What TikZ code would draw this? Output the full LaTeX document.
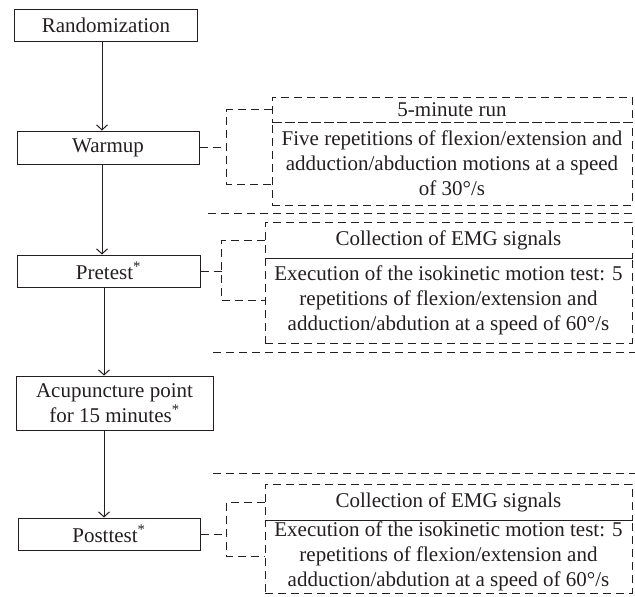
\documentclass[tikz,border=0pt]{standalone}
\usepackage{fontspec}
\setmainfont{Liberation Serif}
\usetikzlibrary{arrows.meta}
\definecolor{ink}{RGB}{35,31,32}
\tikzset{
  box/.style={draw=ink, line width=1pt, inner sep=0pt, align=center, text=ink},
  dbox/.style={draw=ink, line width=1pt, dash pattern=on 8pt off 5pt, inner sep=0pt, align=center, text=ink},
  dline/.style={draw=ink, line width=1pt, dash pattern=on 8pt off 5pt},
  flow/.style={draw=ink, line width=1pt, -{Straight Barb[length=5pt,width=11pt]}}
}

\begin{document}
\begin{tikzpicture}[x=1pt, y=-1pt, font=\fontsize{21}{25}\selectfont]
  \useasboundingbox (0,0) rectangle (635,597);
  % main steps
  \node[box, minimum width=183pt, minimum height=32pt] (rand) at (106,25.5) {Randomization};
  \node[box, minimum width=182pt, minimum height=33pt] (warm) at (108,147.5) {Warmup};
  \node[box, minimum width=183pt, minimum height=32pt] (pre) at (108.5,271) {Pretest\textsuperscript{*}};
  \node[box, minimum width=197pt, minimum height=54pt] (acu) at (114.5,403) {Acupuncture point\\for 15 minutes\textsuperscript{*}};
  \node[box, minimum width=182pt, minimum height=32pt] (post) at (109,534) {Posttest\textsuperscript{*}};
  \coordinate (upper) at (102,0);
  \coordinate (lower) at (104,0);
  \draw[flow] (rand.south -| upper) -- (warm.north -| upper);
  \draw[flow] (warm.south -| upper) -- (pre.north -| upper);
  \draw[flow] (pre.south -| lower) -- (acu.north -| lower);
  \draw[flow] (acu.south -| lower) -- (post.north -| lower);
  % details
  \node[dbox, minimum width=360pt, minimum height=25pt] (run) at (452,109.5) {5-minute run};
  \node[dbox, minimum width=360pt, minimum height=83pt] (five) at (452,163.5) {Five repetitions of flexion/extension and\\adduction/abduction motions at a speed\\of 30°/s};
  \node[dbox, minimum width=367pt, minimum height=36pt] (emg1) at (448.5,240) {Collection of EMG signals};
  \node[dbox, minimum width=367pt, minimum height=85pt] (exe1) at (448.5,300.5) {Execution of the isokinetic motion test: 5\\repetitions of flexion/extension and\\adduction/abdution at a speed of 60°/s};
  \node[dbox, minimum width=367pt, minimum height=36pt] (emg2) at (448.5,502) {Collection of EMG signals};
  \node[dbox, minimum width=367pt, minimum height=73pt] (exe2) at (448.5,556.5) {Execution of the isokinetic motion test: 5\\repetitions of flexion/extension and\\adduction/abdution at a speed of 60°/s};
  % brackets
  \draw[dline] (run.west) -- ++(-45,0) coordinate (wb) -- ++(0,74.5) -- ++(45,0);
  \draw[dline] (warm.east) -- (warm.east -| wb);
  \draw[dline] (emg1.west) -- ++(-43,0) coordinate (pb) |- (exe1.west);
  \draw[dline] (pre.east) -- (pre.east -| pb);
  \draw[dline] (emg2.west) -- ++(-38,0) coordinate (qb) |- (exe2.west);
  \draw[dline] (post.east) -- (post.east -| qb);
  % separators
  \draw[dline] (208,213) -- (635,213);
  \draw[dline] (213,352) -- (635,352);
  \draw[dline] (213,473) -- (635,473);
\end{tikzpicture}
\end{document}
